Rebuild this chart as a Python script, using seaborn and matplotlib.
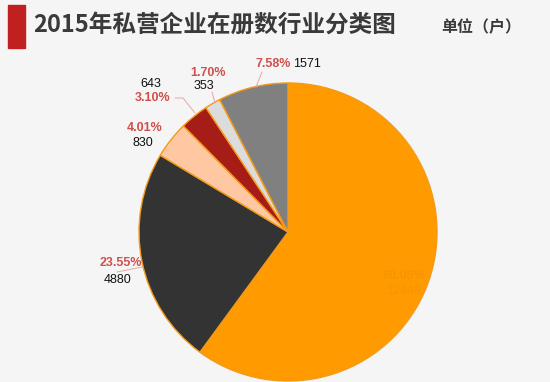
import matplotlib
matplotlib.use("Agg")
import matplotlib.pyplot as plt
import matplotlib.patches as mpatches
import seaborn as sns

# 数据
counts = [12449, 4880, 830, 643, 353, 1571]
pct_labels = ["60.06%", "23.55%", "4.01%", "3.10%", "1.70%", "7.58%"]
slice_colors = ["#ff9a00", "#333333", "#ffc8a2", "#a51d16", "#dcdcdc", "#808080"]
title = "2015年私营企业在册数行业分类图"
unit = "单位（户）"

sns.set_theme(style="white")
plt.rcParams['font.family'] = ['Noto Sans CJK SC', 'DejaVu Sans']

fig = plt.figure(figsize=(5.5, 3.82), dpi=100)
fig.patch.set_facecolor("#f5f5f5")
ax = fig.add_axes([0, 0, 1, 1])
ax.set_facecolor("#f5f5f5")

# 饼图 (y轴反转, 所以 counterclock=True 实际是顺时针)
ax.pie(counts, colors=slice_colors, startangle=-90, counterclock=True,
       center=(288, 232), radius=149, frame=True,
       wedgeprops=dict(edgecolor="#f39a1a", linewidth=1.0))
ax.set_xlim(0, 550)
ax.set_ylim(382, 0)
ax.set_aspect("equal")
ax.axis("off")

# 标题
ax.add_patch(mpatches.Rectangle((8, 5), 17, 43, color="#c0201f"))
ax.text(33, 25, title, fontsize=17, fontweight="bold", color="#3a3a3a", va="center", ha="left")
ax.text(441, 27, unit, fontsize=11.5, fontweight="bold", color="#3a3a3a", va="center", ha="left")

red = "#d0504c"
num_font = dict(family=["Liberation Sans", "DejaVu Sans"], fontsize=9)
line_kw = dict(color="#e8a8a4", linewidth=0.7)

# 标签: (百分比位置, 数值位置)
label_pos = {
    0: ((404, 276), (404, 291)),
    1: ((121, 263), (118, 280)),
    2: ((145, 128), (143, 143)),
    3: ((153, 98), (151, 84)),
    4: ((208, 73), (204, 86)),
    5: ((273, 64), (307, 64)),
}
for i, ((px, py), (vx, vy)) in label_pos.items():
    if i == 0:
        pc, vc = "#f79500", "#f79500"
    else:
        pc, vc = red, "#111111"
    ax.text(px, py, pct_labels[i], color=pc, fontweight="bold", ha="center", va="center", **num_font)
    ax.text(vx, vy, str(counts[i]), color=vc, ha="center", va="center", **num_font)

# 引导线
ax.plot([262, 256], [72, 87], **line_kw)
ax.plot([212, 215], [92, 103], **line_kw)
ax.plot([175, 183, 195], [98, 98, 113], **line_kw)
ax.plot([117, 142], [272, 267], **line_kw)

fig.savefig("out.png", dpi=100, facecolor=fig.get_facecolor())
